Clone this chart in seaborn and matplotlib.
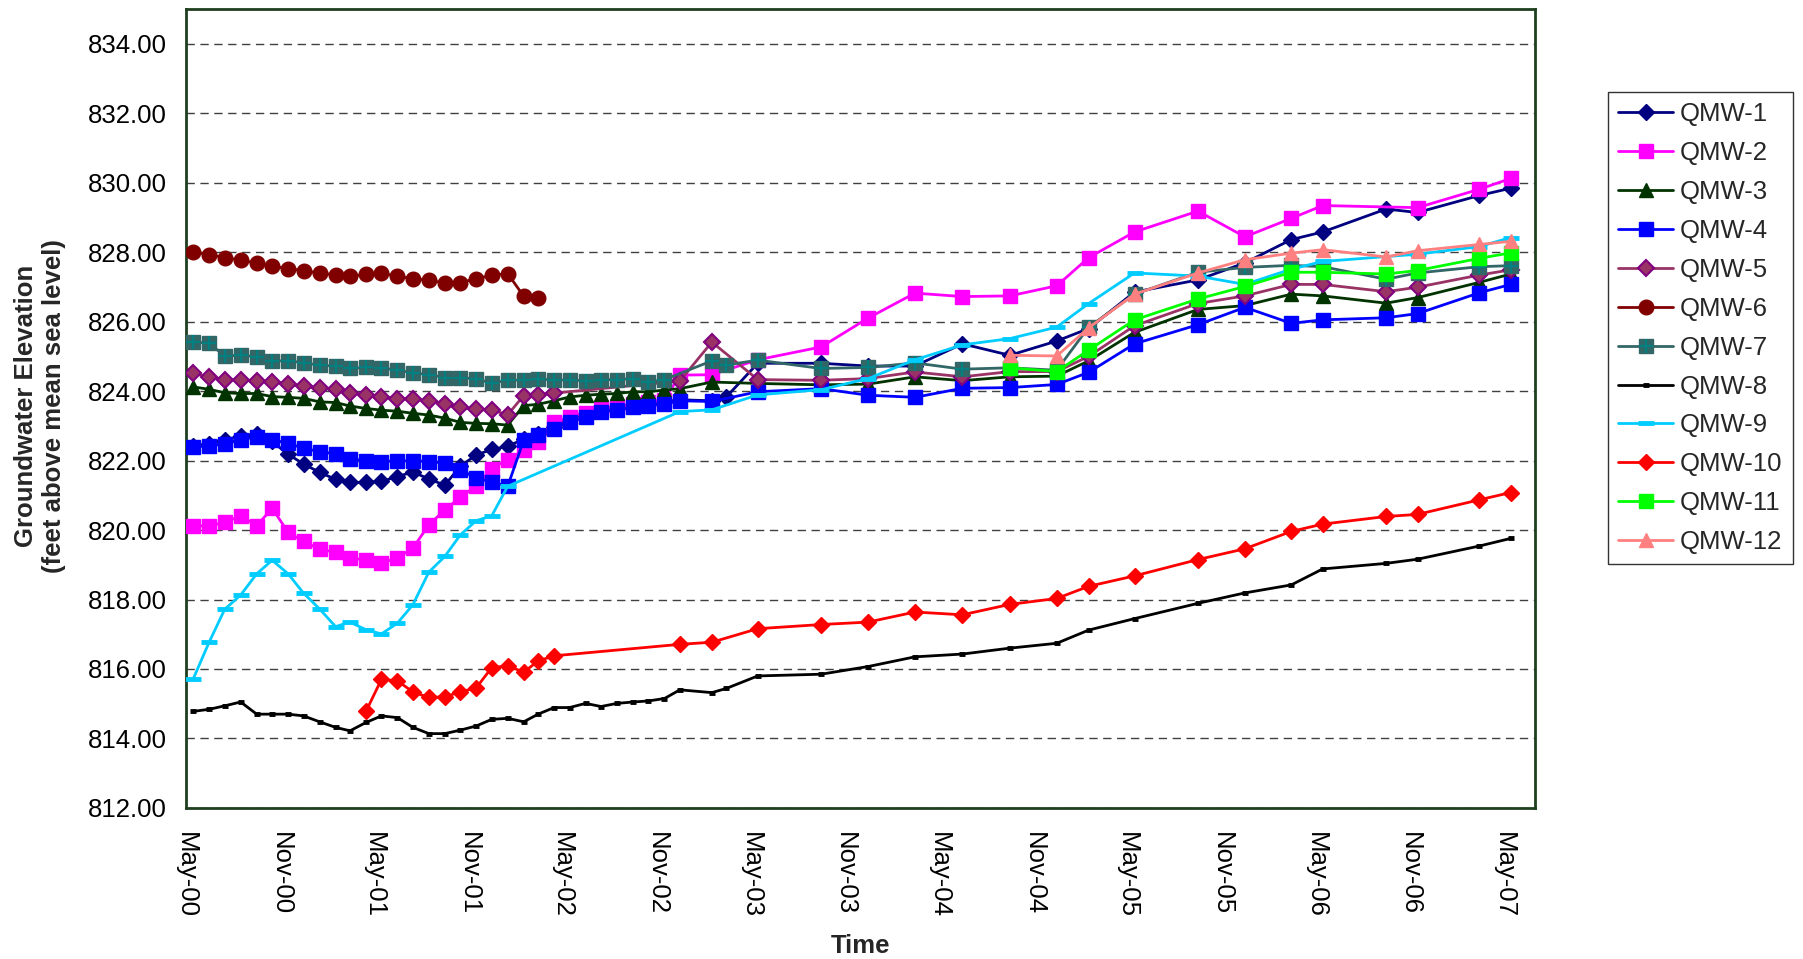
import numpy as np
import pandas as pd
import seaborn as sns
import matplotlib
matplotlib.use("Agg")
import matplotlib.pyplot as plt
import matplotlib.dates as mdates
from matplotlib.lines import Line2D
from matplotlib.ticker import MultipleLocator, FormatStrFormatter

# ---- sampling months (monthly to Dec-02, then quarterly-ish) ----
sample_months = ["2000-05", "2000-06", "2000-07", "2000-08", "2000-09", "2000-10",
                 "2000-11", "2000-12", "2001-01", "2001-02", "2001-03", "2001-04",
                 "2001-05", "2001-06", "2001-07", "2001-08", "2001-09", "2001-10",
                 "2001-11", "2001-12", "2002-01", "2002-02", "2002-03", "2002-04",
                 "2002-05", "2002-06", "2002-07", "2002-08", "2002-09", "2002-10",
                 "2002-11", "2002-12",
                 "2003-02", "2003-03", "2003-05", "2003-09", "2003-12", "2004-03",
                 "2004-06", "2004-09", "2004-12", "2005-02", "2005-05", "2005-09",
                 "2005-12", "2006-03", "2006-05", "2006-09", "2006-11", "2007-03",
                 "2007-05"]

well_names = ["QMW-1", "QMW-2", "QMW-3", "QMW-4", "QMW-5", "QMW-6",
              "QMW-7", "QMW-8", "QMW-9", "QMW-10", "QMW-11", "QMW-12"]

qmw1 = [822.42, 822.48, 822.58, 822.72, 822.75, 822.55,
        822.18, 821.90, 821.66, 821.46, 821.37, 821.37, 821.40,
        821.54, 821.67, 821.47, 821.29, 821.84, 822.16, 822.32, 822.41,
        822.62, 822.77, 822.97, 823.20, 823.33, 823.46, 823.52, 823.58, 823.62, 823.68, 823.75,
        823.72, 823.83, 824.80, 824.80, 824.72, 824.72, 825.36, 825.03, 825.44, 825.80,
        826.85, 827.20, 827.69, 828.36, 828.58, 829.24, 829.14, 829.63, 829.84]

qmw2 = [820.12, 820.12, 820.22, 820.41, 820.12, 820.63, 819.93, 819.67, 819.45, 819.36, 819.20, 819.13,
        819.05, 819.20, 819.48, 820.15, 820.58, 820.94, 821.27, 821.77, 822.03, 822.30, 822.52, 823.10,
        823.25, 823.38, 823.50, 823.55, 823.62, 823.68, 823.75, 824.46,
        824.47, None, 824.90, 825.27, 826.10, 826.82, 826.72, 826.74, 827.03, 827.84,
        828.58, 829.18, 828.44, 828.97, 829.34, None, 829.28, 829.81, 830.12]

qmw3 = [824.12, 824.05, 823.95, 823.93, 823.93, 823.84, 823.82, 823.79, 823.69, 823.67, 823.57, 823.50, 823.45,
        823.42, 823.36, 823.31, 823.22, 823.10, 823.07, 823.06, 823.02,
        823.58, 823.62, 823.72, 823.83, 823.88, 823.91, 823.93, 823.98, 823.98, 824.03, 824.07,
        824.26, None, 824.22, 824.18, 824.20, 824.41, 824.30, 824.41, 824.43, 824.87,
        825.69, 826.35, 826.46, 826.79, 826.74, 826.53, 826.69, 827.13, 827.37]

qmw4 = [822.40, 822.42, 822.48, 822.59, 822.69, 822.59, 822.50, 822.35, 822.26, 822.19, 822.04,
        822.00, 821.97, 821.99, 821.99, 821.97, 821.93, 821.73, 821.50, 821.38, 821.26,
        822.59, 822.73, 822.92, 823.12, 823.24, 823.40, 823.45, 823.53, 823.57, 823.64, 823.72,
        823.70, None, 823.98, 824.07, 823.88, 823.82, 824.08, 824.10, 824.19, 824.54,
        825.36, 825.91, 826.41, 825.95, 826.05, 826.11, 826.23, 826.83, 827.07]

qmw5 = [824.51, 824.41, 824.33, 824.32, 824.29, 824.27, 824.20, 824.14, 824.08, 824.05, 823.95,
        823.89, 823.84, 823.78, 823.77, 823.72, 823.64, 823.53, 823.47, 823.45, 823.32,
        823.87, 823.89, 823.94, None, None, None, None, None, None, None, 824.29,
        825.41, None, 824.33, 824.31, 824.36, 824.55, 824.41, 824.56, 824.56, 825.00,
        825.88, 826.52, 826.74, 827.07, 827.07, 826.86, 826.99, 827.34, 827.49]

qmw6 = [828.00, 827.93, 827.84, 827.77, 827.68, 827.60, 827.52, 827.47, 827.39, 827.35, 827.30, 827.36,
        827.40, 827.30, 827.24, 827.19, 827.11, 827.12, 827.24, 827.33, 827.38, 826.73, 826.69] + [None] * 28

qmw7 = [825.42, 825.37, 825.01, 825.03, 824.99, 824.87, 824.87, 824.82, 824.74, 824.72, 824.65, 824.68,
        824.67, 824.60, 824.53, 824.47, 824.39, 824.38, 824.36, 824.22, 824.32, 824.31, 824.36,
        824.31, 824.33, 824.29, 824.33, 824.33, 824.36, 824.26, 824.33, None,
        824.87, 824.75, 824.89, 824.65, 824.68, 824.81, 824.63, 824.67, 824.60, 825.84,
        826.79, 827.42, 827.56, 827.62, 827.58, 827.22, 827.40, 827.58, 827.61]

qmw8 = [814.78, 814.84, 814.94, 815.05, 814.70, 814.70, 814.70, 814.65, 814.48, 814.32, 814.22, 814.46,
        814.65, 814.60, 814.32, 814.14, 814.14, 814.24, 814.36, 814.55, 814.58, 814.48, 814.70, 814.89,
        814.89, 815.01, 814.92, 815.01, 815.05, 815.08, 815.15, 815.40,
        815.32, 815.44, 815.80, 815.85, 816.07, 816.35, 816.43, 816.60, 816.74, 817.12,
        817.45, 817.89, 818.19, 818.42, 818.88, 819.04, 819.16, 819.54, 819.76]

qmw9 = [815.72, 816.78, 817.72, 818.13, 818.74, 819.13, 818.74, 818.18, 817.73, 817.22, 817.35,
        817.13, 817.01, 817.32, 817.85, 818.79, 819.24, 819.86, 820.27, 820.41, 821.26,
        None, None, None, None, None, None, None, None, None, None, 823.41,
        823.46, None, 823.89, 824.04, 824.36, 824.90, 825.33, 825.51, 825.84, 826.52,
        827.40, 827.31, 827.07, 827.51, 827.73, None, 827.94, 828.16, 828.42]

qmw10 = [None] * 11 + [
        814.78, 815.70, 815.66, 815.34, 815.18, 815.20, 815.34, 815.46, 816.04, 816.09, 815.91, 816.23, 816.38,
        None, None, None, None, None, None, None, 816.71,
        816.77, None, 817.16, 817.28, 817.35, 817.64, 817.56, 817.86, 818.03, 818.38,
        818.68, 819.15, 819.46, 819.96, 820.17, 820.39, 820.45, 820.87, 821.08]

qmw11 = [None] * 39 + [824.67, 824.56, 825.18, 826.05, 826.65, 827.01, 827.42, 827.42,
                       827.37, 827.47, 827.82, 827.98]

qmw12 = [None] * 39 + [825.03, 825.01, 825.82, 826.79, 827.40, 827.78, 827.97, 828.07,
                       827.86, 828.04, 828.22, 828.31]

series = [qmw1, qmw2, qmw3, qmw4, qmw5, qmw6, qmw7, qmw8, qmw9, qmw10, qmw11, qmw12]

# marker styles per well (Excel-like)
styles = {
    "QMW-1": dict(color="#000080", marker="D", ms=8, mfc="#000080", mec="#000080", mew=1),
    "QMW-2": dict(color="#FF00FF", marker="s", ms=10, mfc="#FF00FF", mec="#FF00FF", mew=1),
    "QMW-3": dict(color="#003300", marker="^", ms=10, mfc="#003300", mec="#003300", mew=1),
    "QMW-4": dict(color="#0000FF", marker="s", ms=10, mfc="#0000FF", mec="#0000FF", mew=1),
    "QMW-5": dict(color="#993366", marker="D", ms=8, mfc="#993366", mec="#800080", mew=1.5),
    "QMW-6": dict(color="#800000", marker="o", ms=10.5, mfc="#800000", mec="#800000", mew=1),
    "QMW-7": dict(color="#336666", marker="s", ms=10.5, mfc="#336666", mec="#336666", mew=1),
    "QMW-8": dict(color="#000000", marker="_", ms=5, mfc="#000000", mec="#000000", mew=3.5),
    "QMW-9": dict(color="#00CCFF", marker="_", ms=11, mfc="#00CCFF", mec="#00CCFF", mew=3.5),
    "QMW-10": dict(color="#FF0000", marker="D", ms=8, mfc="#FF0000", mec="#FF0000", mew=1),
    "QMW-11": dict(color="#00FF00", marker="s", ms=10, mfc="#00FF00", mec="#00FF00", mew=1),
    "QMW-12": dict(color="#FF8080", marker="^", ms=10.5, mfc="#FF8080", mec="#FF8080", mew=1),
}

dates = pd.to_datetime(sample_months) + pd.Timedelta(days=14)
rows = []
for name, vals in zip(well_names, series):
    for d, v in zip(dates, vals):
        if v is not None:
            rows.append((name, d, v))
df = pd.DataFrame(rows, columns=["well", "date", "elev"])

sns.set_style("white")
plt.rcParams["font.family"] = ["Liberation Sans", "DejaVu Sans"]

fig = plt.figure(figsize=(18.03, 9.59), dpi=100)
ax = fig.add_axes([0.1032, 0.1575, 0.7482, 0.8332])

handles = []
for i, name in enumerate(well_names):
    sub = df[df.well == name]
    st = styles[name]
    sns.lineplot(data=sub, x="date", y="elev", ax=ax, color=st["color"],
                 marker=st["marker"], markersize=st["ms"], markerfacecolor=st["mfc"],
                 markeredgecolor=st["mec"], markeredgewidth=st["mew"],
                 linewidth=2, errorbar=None, legend=False, zorder=3 + i)
    h = Line2D([], [], color=st["color"], marker=st["marker"], markersize=st["ms"],
               markerfacecolor=st["mfc"], markeredgecolor=st["mec"],
               markeredgewidth=st["mew"], linewidth=2)
    if name == "QMW-7":
        ax.plot(sub["date"], sub["elev"], ls="none", marker="+", markersize=10,
                markeredgecolor="#008080", markeredgewidth=1.6, zorder=3 + i)
        hp = Line2D([], [], ls="none", marker="+", markersize=10,
                    markeredgecolor="#008080", markeredgewidth=1.6)
        h = (h, hp)
    handles.append(h)

# axes formatting
ax.set_xlim(pd.Timestamp("2000-05-01"), pd.Timestamp("2007-07-01"))
ax.xaxis.set_major_locator(mdates.MonthLocator(bymonth=[5, 11]))
ax.xaxis.set_major_formatter(mdates.DateFormatter("%b-%y"))
ax.xaxis.set_minor_locator(mdates.MonthLocator())
ax.set_ylim(812, 835)
ax.yaxis.set_major_locator(MultipleLocator(2))
ax.yaxis.set_major_formatter(FormatStrFormatter("%.2f"))
ax.yaxis.set_minor_locator(MultipleLocator(1))

ax.yaxis.grid(True, which="major", linestyle=(0, (6, 4)), color="#404040", linewidth=1)
ax.xaxis.grid(False)
ax.set_axisbelow(True)

for sp in ax.spines.values():
    sp.set_color("#1f3f1f")
    sp.set_linewidth(2)

ax.tick_params(axis="both", which="both", direction="out", colors="#1f3f1f",
               labelcolor="black", labelsize=18.5, width=1)
ax.tick_params(axis="x", which="major", length=5, pad=12)
ax.tick_params(axis="x", which="minor", length=4)
ax.tick_params(axis="y", which="major", length=6, pad=8)
ax.tick_params(axis="y", which="minor", length=4)
plt.setp(ax.get_xticklabels(), rotation=-90, ha="center", va="top")

ax.set_xlabel("Time", fontsize=18.5, fontweight="bold")
ax.set_ylabel("Groundwater Elevation\n(feet above mean sea level)", fontsize=18.5,
              fontweight="bold")
ax.xaxis.set_label_coords(0.5, -0.158)
ax.yaxis.set_label_coords(-0.089, 0.503)

leg = ax.legend(handles, well_names, loc="upper left", bbox_to_anchor=(0.8918, 0.9041),
                bbox_transform=fig.transFigure, borderaxespad=0, fontsize=18.5,
                frameon=True, fancybox=False, edgecolor="black", handlelength=2.15,
                handletextpad=0.25, labelspacing=0.58, borderpad=0.4)
leg.get_frame().set_linewidth(1)

fig.savefig("out.png", dpi=100)
